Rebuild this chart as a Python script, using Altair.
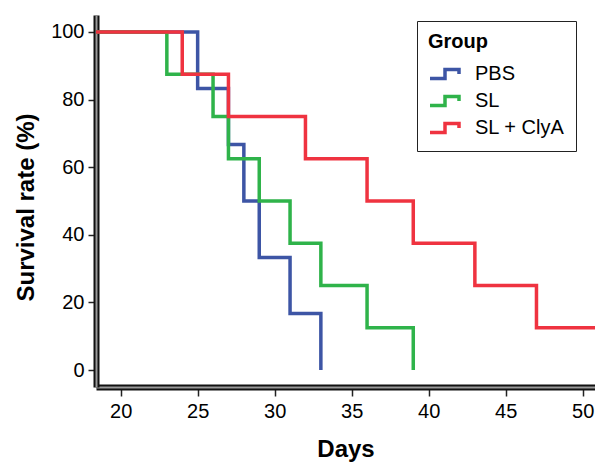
import altair as alt
import pandas as pd

groups = ["PBS", "SL", "SL + ClyA"]
colors = ["#3d55a5", "#2fb34a", "#ef3340"]

pbs_days = [0, 25, 27, 28, 29, 31, 33]
pbs_surv = [100, 83.3, 66.7, 50, 33.3, 16.7, 0]
sl_days = [0, 23, 26, 27, 29, 31, 33, 36, 39]
sl_surv = [100, 87.5, 75, 62.5, 50, 37.5, 25, 12.5, 0]
clya_days = [0, 24, 27, 32, 36, 39, 43, 47, 60]
clya_surv = [100, 87.5, 75, 62.5, 50, 37.5, 25, 12.5, 12.5]

x_ticks = [20, 25, 30, 35, 40, 45, 50]
y_ticks = [0, 20, 40, 60, 80, 100]

rows = []
for g, days, surv in zip(groups, [pbs_days, sl_days, clya_days], [pbs_surv, sl_surv, clya_surv]):
    for d, s in zip(days, surv):
        rows.append({"Group": g, "day": d, "surv": s})
df = pd.DataFrame(rows)

FONT = "Liberation Sans"
x_scale = alt.Scale(domain=[18.4, 50.8], nice=False, zero=False)
y_scale = alt.Scale(domain=[-5, 105], nice=False)

lines = (
    alt.Chart(df)
    .mark_line(interpolate="step-after", strokeWidth=3.5, clip=True)
    .encode(
        x=alt.X(
            "day:Q",
            scale=x_scale,
            axis=alt.Axis(
                orient="bottom",
                values=x_ticks,
                title="Days",
                titleY=69,
                titleBaseline="alphabetic",
                tickSize=9,
                labelPadding=5,
                domainColor="#111111",
                domainWidth=6,
            ),
        ),
        y=alt.Y(
            "surv:Q",
            scale=y_scale,
            axis=alt.Axis(
                orient="left",
                values=y_ticks,
                title="Survival rate (%)",
                titleX=-63,
                titleY=192,
                titleBaseline="alphabetic",
                tickSize=8,
                labelPadding=4,
                domainColor="#111111",
                domainWidth=6,
            ),
        ),
        color=alt.Color(
            "Group:N",
            scale=alt.Scale(domain=groups, range=colors),
            legend=alt.Legend(
                title="Group",
                orient="none",
                legendX=321,
                legendY=6,
                padding=11,
                strokeColor="#222222",
                symbolType="M-1,0.45H0.5V-0.45H1.9V0",
                symbolSize=400,
                symbolStrokeWidth=3.5,
                symbolFillColor="transparent",
                labelOffset=23,
                labelExpr="datum.label + '\u00a0\u00a0\u00a0'",
                labelFontSize=20,
                labelFont=FONT,
                labelColor="black",
                titleFontSize=20,
                titleFont=FONT,
                titleFontWeight="bold",
                titleColor="black",
                titlePadding=10,
                rowPadding=3,
            ),
        ),
    )
)

# thin light centre line of the double-ruled axes
overlay = (
    alt.Chart(df)
    .mark_line(opacity=0)
    .encode(
        x=alt.X(
            "day:Q",
            scale=x_scale,
            axis=alt.Axis(
                orient="bottom", title=None, labels=False, ticks=False,
                domainColor="#9a9a9a", domainWidth=2,
            ),
        ),
        y=alt.Y(
            "surv:Q",
            scale=y_scale,
            axis=alt.Axis(
                orient="left", title=None, labels=False, ticks=False,
                domainColor="#9a9a9a", domainWidth=2,
            ),
        ),
    )
)

chart = (
    alt.layer(lines, overlay)
    .resolve_axis(x="independent", y="independent")
    .properties(
        width=499,
        height=372,
        autosize=alt.AutoSizeParams(type="none"),
        padding={"left": 88, "top": 7, "right": 0, "bottom": 77},
    )
    .configure_view(stroke=None)
    .configure_axis(
        grid=False,
        tickColor="#222222",
        tickWidth=1.5,
        labelFont=FONT,
        labelFontSize=20,
        labelColor="black",
        titleFont=FONT,
        titleFontSize=24,
        titleFontWeight="bold",
        titleColor="black",
    )
)

chart.save("out.html", embed_options={"renderer": "svg", "actions": False})
